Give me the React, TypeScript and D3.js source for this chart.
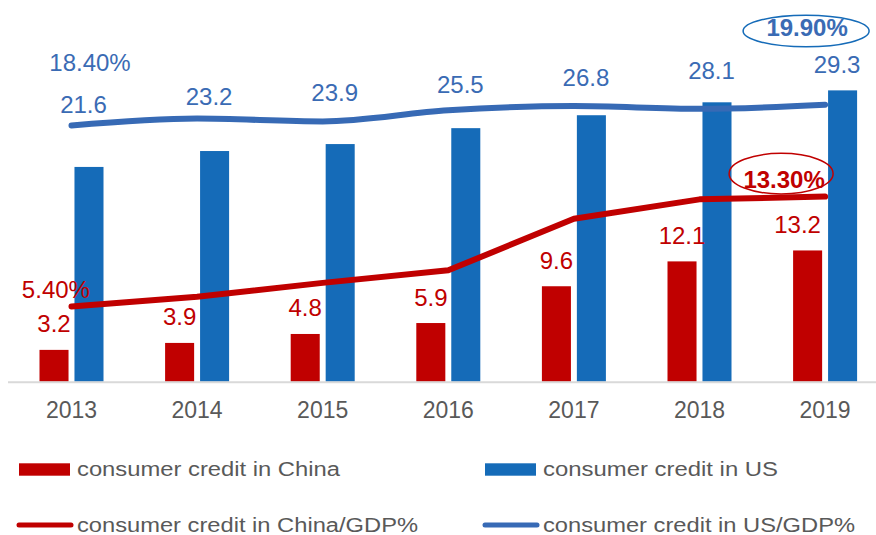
import React from 'react';
import * as d3 from 'd3';

const years = ['2013', '2014', '2015', '2016', '2017', '2018', '2019'];
const chinaCredit = [3.2, 3.9, 4.8, 5.9, 9.6, 12.1, 13.2];
const usCredit = [21.6, 23.2, 23.9, 25.5, 26.8, 28.1, 29.3];
const chinaGdpRatio = [5.4, 6.1, 7.1, 8.0, 11.7, 13.1, 13.3];
const usGdpRatio = [18.4, 18.9, 18.7, 19.5, 19.8, 19.6, 19.9];
const legendLabels = [
  'consumer credit in China',
  'consumer credit in US',
  'consumer credit in China/GDP%',
  'consumer credit in US/GDP%',
];

const W = 876;
const H = 535;
const FONT = "'Liberation Sans', Arial, Helvetica, sans-serif";
const RED = '#C00000';
const BAR_BLUE = '#156BB8';
const LINE_BLUE = '#376AB5';
const TEXT_BLUE = '#3A6BB4';
const GRAY = '#595959';

export default function App() {
  const x = d3.scaleBand<string>().domain(years).range([8.7, 887.9]);
  const cx = (i: number) => (x(years[i]) as number) + x.bandwidth() / 2;
  const sub = d3.scaleBand<string>().domain(['China', 'US']).range([-32, 32]).paddingInner(0.17);
  const baseY = 381.7;
  const topY = 33.7;
  const y1 = d3.scaleLinear().domain([0, 35]).range([baseY, topY]);
  const y2 = d3.scaleLinear().domain([0, 25]).range([baseY, topY]);
  const usExt = d3.extent(usCredit) as [number, number];
  const usLabelY = d3.scaleLinear().domain(usExt).range([113, 73]);

  const chinaLine = d3
    .line<number>()
    .x((_, i) => cx(i))
    .y((d) => y2(d))
    .curve(d3.curveLinear);
  const usLine = d3
    .line<number>()
    .x((_, i) => cx(i))
    .y((d) => y2(d))
    .curve(d3.curveMonotoneX);

  const pct = (v: number) => d3.format('.2f')(v) + '%';
  const last = years.length - 1;

  const cnFirst = { x: cx(0) - 15.6, y: y2(chinaGdpRatio[0]) - 8.8 };
  const usFirst = { x: cx(0) + 18.5, y: y2(usGdpRatio[0]) - 55 };
  const cnLast = { x: cx(last) - 41, y: y2(chinaGdpRatio[last]) - 8.3 };
  const usLast = { x: cx(last) - 18, y: y2(usGdpRatio[last]) - 68.5 };

  const legendTextWidths = [263, 235, 341, 312];
  const legendCols = [19, 485];
  const legendRows = [476, 531.7];

  return (
    <svg
      width={W}
      height={H}
      style={{ position: 'absolute', left: 0, top: 0, background: '#fff' }}
      fontFamily={FONT}
    >
      <rect x={0} y={0} width={W} height={H} fill="#fff" />
      {/* bars */}
      {years.map((yr, i) => (
        <g key={yr}>
          <rect
            x={cx(i) + (sub('China') as number)}
            y={y1(chinaCredit[i])}
            width={sub.bandwidth()}
            height={baseY - y1(chinaCredit[i])}
            fill={RED}
          />
          <rect
            x={cx(i) + (sub('US') as number)}
            y={y1(usCredit[i])}
            width={sub.bandwidth()}
            height={baseY - y1(usCredit[i])}
            fill={BAR_BLUE}
          />
        </g>
      ))}
      {/* axis line */}
      <line x1={8} x2={W} y1={baseY + 0.5} y2={baseY + 0.5} stroke="#D9D9D9" strokeWidth={2} />
      {/* year labels */}
      {years.map((yr, i) => (
        <text key={'t' + yr} x={cx(i)} y={418} textAnchor="middle" fontSize={23} fill={GRAY}>
          {yr}
        </text>
      ))}
      {/* lines */}
      <path d={usLine(usGdpRatio) || ''} fill="none" stroke={LINE_BLUE} strokeWidth={6} strokeLinecap="round" strokeLinejoin="round" />
      <path d={chinaLine(chinaGdpRatio) || ''} fill="none" stroke={RED} strokeWidth={6} strokeLinecap="round" strokeLinejoin="round" />
      {/* china bar labels */}
      {chinaCredit.map((v, i) => (
        <text
          key={'cl' + i}
          x={cx(i) + (sub('China') as number) + sub.bandwidth() / 2 + (i === last ? -10 : 0)}
          y={y1(v) - 17.5}
          textAnchor="middle"
          fontSize={24}
          fill={RED}
        >
          {v.toFixed(1)}
        </text>
      ))}
      {/* us bar labels */}
      {usCredit.map((v, i) => (
        <text key={'ul' + i} x={cx(i) + 12} y={usLabelY(v)} textAnchor="middle" fontSize={24} fill={TEXT_BLUE}>
          {v.toFixed(1)}
        </text>
      ))}
      {/* ratio annotations */}
      <text x={cnFirst.x} y={cnFirst.y} textAnchor="middle" fontSize={24} fill={RED}>
        {pct(chinaGdpRatio[0])}
      </text>
      <text x={usFirst.x} y={usFirst.y} textAnchor="middle" fontSize={24} fill={TEXT_BLUE}>
        {pct(usGdpRatio[0])}
      </text>
      <text x={cnLast.x} y={cnLast.y} textAnchor="middle" fontSize={24} fontWeight="bold" fill={RED}>
        {pct(chinaGdpRatio[last])}
      </text>
      <ellipse cx={cnLast.x - 3} cy={cnLast.y - 14.6} rx={52} ry={20.3} fill="none" stroke={RED} strokeWidth={1.5} />
      <text x={usLast.x} y={usLast.y} textAnchor="middle" fontSize={24} fontWeight="bold" fill={TEXT_BLUE}>
        {pct(usGdpRatio[last])}
      </text>
      <ellipse cx={usLast.x - 1} cy={usLast.y - 5.2} rx={63} ry={15.8} fill="none" stroke={BAR_BLUE} strokeWidth={1.5} />
      {/* legend */}
      {legendLabels.map((lab, k) => {
        const col = k % 2;
        const row = Math.floor(k / 2);
        const lx = legendCols[col];
        const ly = legendRows[row];
        const color = col === 0 ? RED : row === 0 ? BAR_BLUE : LINE_BLUE;
        return (
          <g key={lab}>
            {row === 0 ? (
              <rect x={lx} y={ly - 12.7} width={51} height={12.4} fill={color} />
            ) : (
              <line x1={lx} x2={lx + 52} y1={ly - 6.7} y2={ly - 6.7} stroke={color} strokeWidth={5} strokeLinecap="round" />
            )}
            <text
              x={lx + 58}
              y={ly}
              fontSize={20}
              fill={GRAY}
              textLength={legendTextWidths[k]}
              lengthAdjust="spacingAndGlyphs"
            >
              {lab}
            </text>
          </g>
        );
      })}
    </svg>
  );
}
